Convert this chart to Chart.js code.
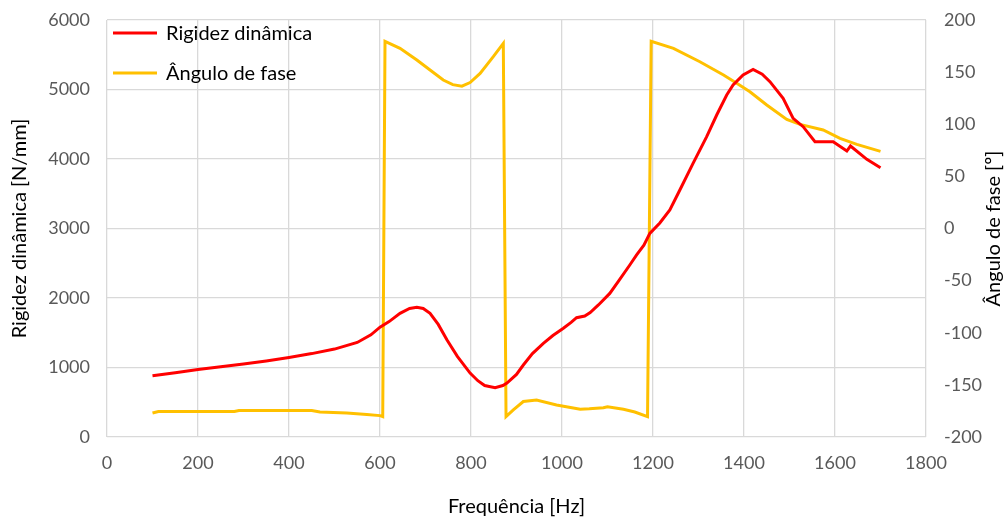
<!DOCTYPE html>
<html>
<head>
<meta charset="utf-8">
<script src="https://cdn.jsdelivr.net/npm/chart.js@4.4.0/dist/chart.umd.min.js"></script>
<style>
html,body{margin:0;padding:0;background:#fff;}
#wrap{width:1005px;height:520px;position:relative;}
</style>
</head>
<body>
<div id="wrap"><canvas id="c" width="1005" height="520"></canvas></div>
<script>
// Rigidez dinâmica [N/mm] vs frequência [Hz]
const freqRigidez = [100,150,200,250,300,350,400,450,500,550,580,600,620,644,665,681,695,710,728,747,770,798,815,830,853,870,879,900,915,935,959,980,1003,1020,1032,1050,1062,1080,1105,1125,1149,1164,1180,1193,1215,1237,1259,1288,1318,1340,1362,1376,1398,1420,1440,1457,1486,1508,1530,1556,1596,1626,1634,1670,1700];
const rigidez = [880,925,970,1010,1050,1095,1145,1200,1265,1360,1470,1580,1660,1780,1850,1866,1850,1780,1620,1400,1160,920,810,740,710,740,775,900,1036,1200,1348,1460,1564,1650,1717,1740,1790,1900,2066,2250,2475,2619,2760,2930,3080,3266,3554,3938,4321,4633,4921,5065,5209,5290,5220,5113,4873,4585,4465,4249,4249,4115,4187,3995,3875];
// Ângulo de fase [º] vs frequência [Hz]
const freqFase = [100,113,200,280,290,450,468,527,571,600,606,611,644,681,710,739,760,780,798,820,849,871,877,893,915,944,988,1040,1060,1091,1100,1135,1160,1188,1196,1245,1303,1355,1384,1413,1450,1494,1523,1574,1611,1648,1700];
const fase = [-177,-175.5,-175.5,-175.5,-174.5,-174.5,-176,-177,-178.5,-179.5,-180.5,179.5,172.8,161.6,152,142.4,138,136.5,140,148.8,164.8,177.6,-180.5,-174,-166,-164.5,-169.3,-173.4,-173,-172,-171,-173.4,-176,-180.5,179.5,172.8,160,147.2,139.3,131.2,118.5,104.7,99.9,94.5,86.5,80.7,74];
const xTicks = [0,200,400,600,800,1000,1200,1400,1600,1800];
const yLeftTicks = [0,1000,2000,3000,4000,5000,6000];
const yRightTicks = [-200,-150,-100,-50,0,50,100,150,200];
const seriesNames = ['Rigidez dinâmica','Ângulo de fase'];
const seriesColors = ['#FF0000','#FFC000'];
const rightTitle = 'Ângulo de fase [º]';

const FONT = 'Lato';
const tickFont = {family: FONT, size: 18};
const titleFont = {family: FONT, size: 20};

const overlayPlugin = {
  id: 'overlay',
  afterDraw(chart) {
    const ctx = chart.ctx;
    const ca = chart.chartArea;
    const x0 = ca.left + 6;
    const ys = [ca.top + 13, ca.top + 53];
    ctx.save();
    ctx.font = '20px ' + FONT;
    ctx.textBaseline = 'middle';
    ctx.textAlign = 'left';
    seriesNames.forEach((n, i) => {
      ctx.strokeStyle = seriesColors[i];
      ctx.lineWidth = 3;
      ctx.beginPath();
      ctx.moveTo(x0, ys[i]);
      ctx.lineTo(x0 + 44, ys[i]);
      ctx.stroke();
      ctx.fillStyle = '#000';
      ctx.fillText(n, x0 + 53, ys[i] + 1);
    });
    // right axis title, reading bottom to top
    ctx.translate(994, (ca.top + ca.bottom) / 2);
    ctx.rotate(-Math.PI / 2);
    ctx.textAlign = 'center';
    ctx.fillText(rightTitle, 0, 0);
    ctx.restore();
  }
};

const numLabel = v => String(v);
const fitY = w => s => { s.width = w; s.paddingTop = 0; s.paddingBottom = 0; };

new Chart(document.getElementById('c'), {
  type: 'line',
  data: {
    datasets: [
      {
        label: seriesNames[0],
        data: freqRigidez.map((f, i) => ({x: f, y: rigidez[i]})),
        borderColor: seriesColors[0],
        backgroundColor: seriesColors[0],
        borderWidth: 3,
        pointRadius: 0,
        tension: 0,
        yAxisID: 'y'
      },
      {
        label: seriesNames[1],
        data: freqFase.map((f, i) => ({x: f, y: fase[i]})),
        borderColor: seriesColors[1],
        backgroundColor: seriesColors[1],
        borderWidth: 3,
        pointRadius: 0,
        tension: 0,
        yAxisID: 'y2'
      }
    ]
  },
  options: {
    responsive: false,
    animation: false,
    layout: {padding: {top: 20, left: 0, right: 0, bottom: 0}},
    plugins: {legend: {display: false}, tooltip: {enabled: false}},
    scales: {
      x: {
        type: 'linear', min: 0, max: 1800,
        afterBuildTicks: s => { s.ticks = xTicks.map(v => ({value: v})); },
        afterFit: s => { s.height = 83; s.paddingLeft = 0; s.paddingRight = 0; },
        grid: {color: '#D9D9D9', lineWidth: 1.3, drawTicks: false},
        border: {display: false},
        ticks: {color: '#595959', font: tickFont, padding: 15, maxRotation: 0, callback: numLabel},
        title: {display: true, text: 'Frequência [Hz]', color: '#000', font: titleFont, padding: {top: 0, bottom: 1}}
      },
      y: {
        position: 'left', min: 0, max: 6000,
        afterBuildTicks: s => { s.ticks = yLeftTicks.map(v => ({value: v})); },
        afterFit: fitY(107),
        grid: {color: '#D9D9D9', lineWidth: 1.3, drawTicks: false},
        border: {display: false},
        ticks: {color: '#595959', font: tickFont, padding: 17, callback: numLabel},
        title: {display: true, text: 'Rigidez dinâmica [N/mm]', color: '#000', font: titleFont, padding: {top: 8, bottom: 0}}
      },
      y2: {
        position: 'right', min: -200, max: 200,
        afterBuildTicks: s => { s.ticks = yRightTicks.map(v => ({value: v})); },
        afterFit: fitY(79),
        grid: {display: false, drawTicks: false},
        border: {display: false},
        ticks: {color: '#595959', font: tickFont, padding: 18, callback: numLabel},
        title: {display: false}
      }
    }
  },
  plugins: [overlayPlugin]
});
</script>
</body>
</html>
